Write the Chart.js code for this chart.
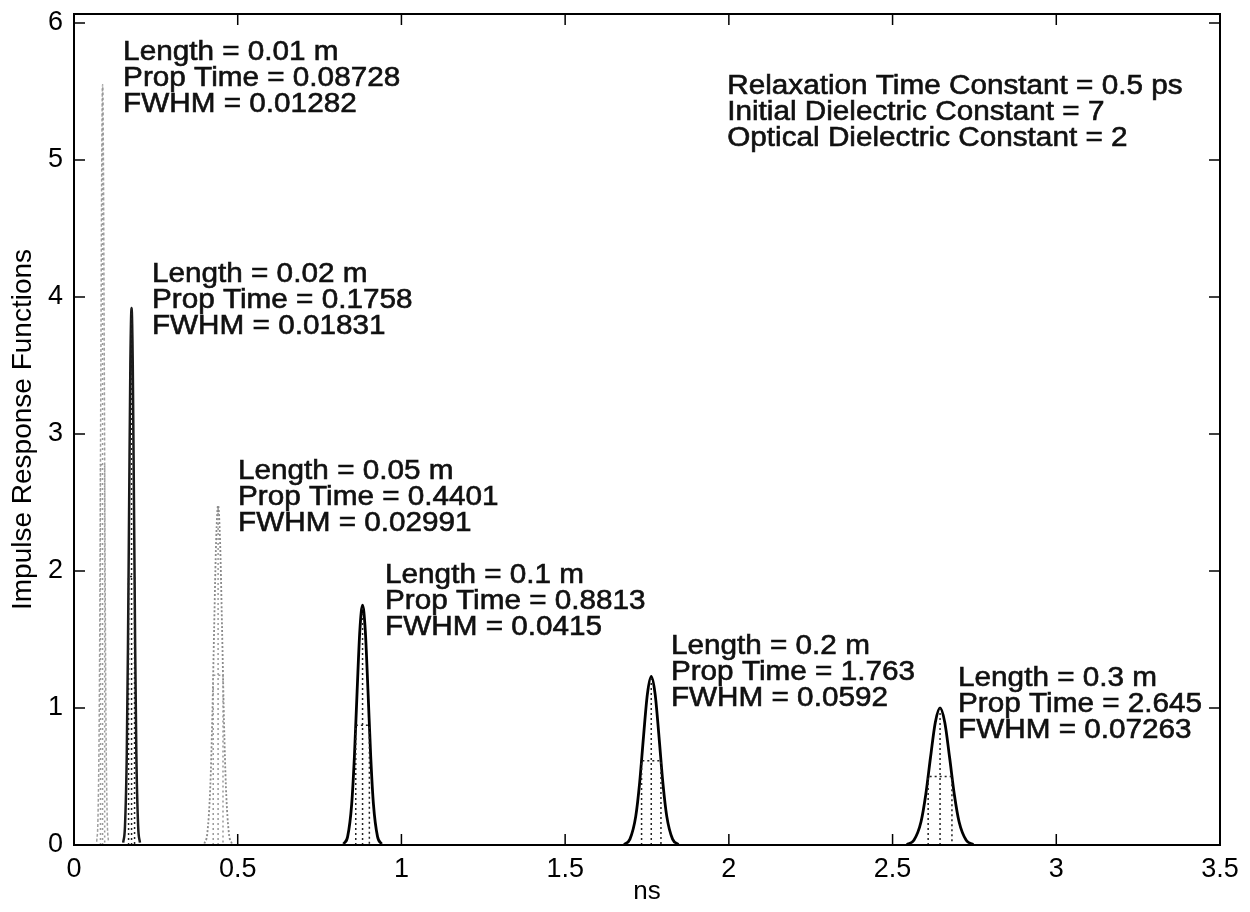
<!DOCTYPE html>
<html>
<head>
<meta charset="utf-8">
<script src="https://cdn.jsdelivr.net/npm/chart.js@4"></script>
<style>
  html, body { margin: 0; background: #fff; }
</style>
</head>
<body>
<canvas id="chart" width="1250" height="912"></canvas>
<script>
// values
const lengths = ['0.01', '0.02', '0.05', '0.1', '0.2', '0.3'];
const propTimes = [0.08728, 0.1758, 0.4401, 0.8813, 1.763, 2.645];
const propLabels = ['0.08728', '0.1758', '0.4401', '0.8813', '1.763', '2.645'];
const fwhms = [0.01282, 0.01831, 0.02991, 0.0415, 0.0592, 0.07263];
const fwhmLabels = ['0.01282', '0.01831', '0.02991', '0.0415', '0.0592', '0.07263'];
const peaks = [5.55, 3.92, 2.48, 1.75, 1.23, 1.0];

const pulse1X = [0.0694, 0.0732, 0.0771, 0.0796, 0.0822, 0.0847, 0.0873, 0.0899, 0.0924, 0.0950, 0.0975, 0.1014, 0.1052];
const pulse1Y = [0.024, 0.194, 0.944, 2.05, 3.56, 4.97, 5.55, 4.97, 3.56, 2.05, 0.944, 0.194, 0.024];
const pulse2X = [0.1502, 0.1557, 0.1612, 0.1648, 0.1685, 0.1721, 0.1758, 0.1795, 0.1831, 0.1868, 0.1904, 0.1959, 0.2014];
const pulse2Y = [0.017, 0.137, 0.666, 1.446, 2.517, 3.508, 3.92, 3.508, 2.517, 1.446, 0.666, 0.137, 0.017];
const pulse3X = [0.3982, 0.4072, 0.4162, 0.4222, 0.4281, 0.4341, 0.4401, 0.4461, 0.4521, 0.4580, 0.4640, 0.4730, 0.4820];
const pulse3Y = [0.011, 0.087, 0.422, 0.915, 1.592, 2.220, 2.48, 2.220, 1.592, 0.915, 0.422, 0.087, 0.011];
const pulse4X = [0.8232, 0.8357, 0.8481, 0.8564, 0.8647, 0.8730, 0.8813, 0.8896, 0.8979, 0.9062, 0.9145, 0.9270, 0.9394];
const pulse4Y = [0.008, 0.061, 0.298, 0.646, 1.124, 1.566, 1.75, 1.566, 1.124, 0.646, 0.298, 0.061, 0.008];
const pulse5X = [1.6801, 1.6979, 1.7156, 1.7275, 1.7393, 1.7512, 1.763, 1.7748, 1.7867, 1.7985, 1.8104, 1.8281, 1.8459];
const pulse5Y = [0.005, 0.043, 0.209, 0.454, 0.790, 1.101, 1.23, 1.101, 0.790, 0.454, 0.209, 0.043, 0.005];
const pulse6X = [2.5434, 2.5651, 2.5869, 2.6014, 2.6160, 2.6305, 2.645, 2.6595, 2.6740, 2.6886, 2.7031, 2.7249, 2.7466];
const pulse6Y = [0.004, 0.035, 0.170, 0.369, 0.642, 0.895, 1.0, 0.895, 0.642, 0.369, 0.170, 0.035, 0.004];

const xTicks = [0, 0.5, 1, 1.5, 2, 2.5, 3, 3.5];
const yTicks = [0, 1, 2, 3, 4, 5, 6];

const paramText = [
  'Relaxation Time Constant = 0.5 ps',
  'Initial Dielectric Constant = 7',
  'Optical Dielectric Constant = 2'
];

// where the text blocks sit (data units: left edge, first line centre)
const labelPos = [[0.150, 5.788], [0.238, 4.161], [0.501, 2.723], [0.950, 1.964], [1.823, 1.445], [2.700, 1.212]];
const paramPos = [1.995, 5.536];

const pulseX = [pulse1X, pulse2X, pulse3X, pulse4X, pulse5X, pulse6X];
const pulseY = [pulse1Y, pulse2Y, pulse3Y, pulse4Y, pulse5Y, pulse6Y];
const lineColors = ['#a0a0a0', '#1a1a1a', '#8a8a8a', '#000', '#000', '#000'];
const lineDash = [[3, 2], [], [2, 2], [], [], []];
const lineWidth = [1.5, 2.5, 1.8, 2.8, 2.8, 2.8];

const FONT = '"Liberation Sans", Arial, sans-serif';

const datasets = [];
pulseX.forEach((xs, i) => {
  const c = propTimes[i], f = fwhms[i], p = peaks[i];
  // FWHM markers: dotted box sides + centre line
  datasets.push({
    data: [
      { x: c - f / 2, y: 0 }, { x: c - f / 2, y: p / 2 }, { x: c + f / 2, y: p / 2 }, { x: c + f / 2, y: 0 },
      { x: c, y: null },
      { x: c, y: 0 }, { x: c, y: p }
    ],
    borderColor: i === 0 || i === 2 ? '#999' : '#222',
    borderWidth: 1.5,
    borderDash: [2, 3],
    pointRadius: 0,
    spanGaps: false
  });
  datasets.push({
    data: xs.map((x, k) => ({ x: x, y: pulseY[i][k] })),
    borderColor: lineColors[i],
    borderWidth: lineWidth[i],
    borderDash: lineDash[i],
    pointRadius: 0,
    cubicInterpolationMode: 'monotone'
  });
});

function drawText(ctx, t, x, y) {
  ctx.save();
  ctx.translate(x, y);
  ctx.scale(1.1, 1);
  ctx.fillText(t, 0, 0);
  ctx.strokeText(t, 0, 0);
  ctx.restore();
}

const frame = {
  id: 'frame',
  afterDraw(chart) {
    const { ctx, chartArea: a, scales: { x, y } } = chart;
    ctx.save();
    ctx.strokeStyle = '#000';
    ctx.lineWidth = 2;
    ctx.strokeRect(a.left, a.top, a.right - a.left, a.bottom - a.top);
    ctx.lineWidth = 1.5;
    ctx.beginPath();
    xTicks.forEach(v => {
      const px = x.getPixelForValue(v);
      ctx.moveTo(px, a.bottom); ctx.lineTo(px, a.bottom - 11);
      ctx.moveTo(px, a.top); ctx.lineTo(px, a.top + 11);
    });
    yTicks.forEach(v => {
      const py = y.getPixelForValue(v);
      ctx.moveTo(a.left, py); ctx.lineTo(a.left + 11, py);
      ctx.moveTo(a.right, py); ctx.lineTo(a.right - 11, py);
    });
    ctx.stroke();

    ctx.fillStyle = '#111';
    ctx.strokeStyle = '#111';
    ctx.lineWidth = 0.6;
    ctx.font = '27px ' + FONT;
    ctx.textBaseline = 'middle';
    ctx.textAlign = 'left';
    labelPos.forEach((pos, i) => {
      const lx = x.getPixelForValue(pos[0]);
      const ly = y.getPixelForValue(pos[1]);
      drawText(ctx, 'Length = ' + lengths[i] + ' m', lx, ly);
      drawText(ctx, 'Prop Time = ' + propLabels[i], lx, ly + 26);
      drawText(ctx, 'FWHM = ' + fwhmLabels[i], lx, ly + 52);
    });
    const px0 = x.getPixelForValue(paramPos[0]);
    const py0 = y.getPixelForValue(paramPos[1]);
    paramText.forEach((t, i) => drawText(ctx, t, px0, py0 + i * 26));
    ctx.restore();
  }
};

new Chart(document.getElementById('chart'), {
  type: 'line',
  data: { datasets: datasets },
  options: {
    responsive: false,
    animation: false,
    layout: { padding: { left: 0, right: 30, top: 14, bottom: 0 } },
    plugins: { legend: { display: false }, tooltip: { enabled: false } },
    scales: {
      x: {
        type: 'linear',
        min: 0,
        max: 3.5,
        afterBuildTicks: s => { s.ticks = xTicks.map(v => ({ value: v })); },
        afterFit: s => { s.height = 67; s.paddingLeft = 0; s.paddingRight = 0; },
        grid: { display: false, drawTicks: false },
        border: { display: false },
        ticks: { color: '#000', padding: 8, callback: v => String(v), font: { family: FONT, size: 27 } },
        title: { display: true, text: 'ns', color: '#000', padding: { top: 0, bottom: 5 }, font: { family: FONT, size: 26 } }
      },
      y: {
        type: 'linear',
        min: 0,
        max: 6.066,
        afterBuildTicks: s => { s.ticks = yTicks.map(v => ({ value: v })); },
        afterFit: s => { s.width = 74; s.paddingTop = 0; s.paddingBottom = 0; },
        grid: { display: false, drawTicks: false },
        border: { display: false },
        ticks: { color: '#000', padding: 11, callback: v => String(v), font: { family: FONT, size: 27 } },
        title: { display: true, text: 'Impulse Response Functions', color: '#000', padding: { top: 6, bottom: 0 }, font: { family: FONT, size: 28 } }
      }
    }
  },
  plugins: [frame]
});
</script>
</body>
</html>
